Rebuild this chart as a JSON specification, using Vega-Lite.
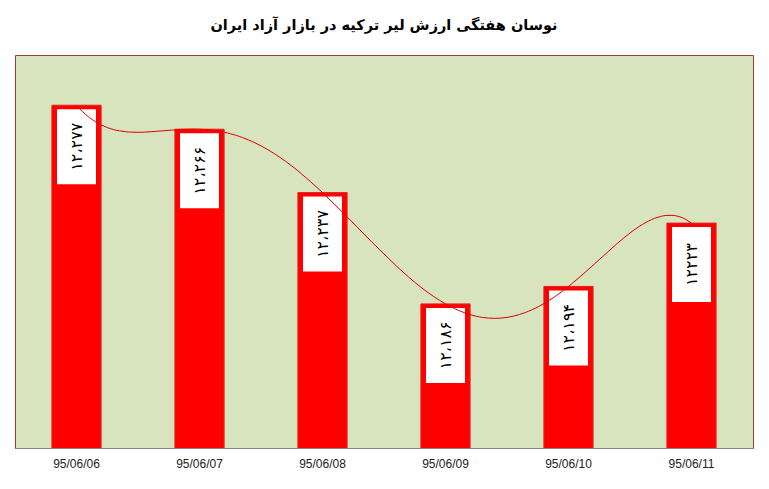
{
  "$schema": "https://vega.github.io/schema/vega-lite/v6.json",
  "autosize": "none",
  "width": 738,
  "height": 393,
  "padding": {"left": 15, "top": 55, "right": 16, "bottom": 41},
  "background": "white",
  "title": {
    "text": "نوسان هفتگی ارزش لیر ترکیه در بازار آزاد ایران",
    "font": "DejaVu Sans",
    "fontSize": 14.5,
    "fontWeight": "bold",
    "color": "black",
    "anchor": "middle",
    "offset": 22
  },
  "config": {
    "view": {"fill": "#D7E4BD", "stroke": "#A33A36", "strokeWidth": 1}
  },
  "data": {
    "values": [
      {"idx": 0, "date": "95/06/06", "rate": 12277, "label": "۱۲،۲۷۷"},
      {"idx": 1, "date": "95/06/07", "rate": 12266, "label": "۱۲،۲۶۶"},
      {"idx": 2, "date": "95/06/08", "rate": 12237, "label": "۱۲،۲۳۷"},
      {"idx": 3, "date": "95/06/09", "rate": 12186, "label": "۱۲،۱۸۶"},
      {"idx": 4, "date": "95/06/10", "rate": 12194, "label": "۱۲،۱۹۴"},
      {"idx": 5, "date": "95/06/11", "rate": 12223, "label": "۱۲۲۲۳"}
    ]
  },
  "resolve": {"scale": {"x": "independent"}},
  "layer": [
    {
      "encoding": {
        "x": {
          "field": "date",
          "type": "ordinal",
          "sort": null,
          "scale": {"paddingInner": 0.6, "paddingOuter": 0.3},
          "axis": {
            "title": null,
            "labelAngle": 0,
            "ticks": false,
            "labelPadding": 10,
            "labelFont": "Liberation Sans",
            "labelFontSize": 12,
            "labelColor": "#222222",
            "domainColor": "#888888",
            "domainWidth": 1
          }
        },
        "y": {
          "field": "rate",
          "type": "quantitative",
          "scale": {"domain": [12120, 12300], "nice": false, "zero": false},
          "axis": null
        }
      },
      "layer": [
        {
          "mark": {"type": "bar", "clip": true, "color": "#FF0000", "stroke": "#E82020", "strokeWidth": 1}
        },
        {
          "mark": {"type": "tick", "orient": "vertical", "color": "white", "opacity": 1, "size": 75, "thickness": 39, "yOffset": 41.5}
        },
        {
          "mark": {"type": "text", "angle": 270, "align": "center", "baseline": "middle", "yOffset": 41.5, "font": "DejaVu Sans", "fontSize": 16, "color": "black"},
          "encoding": {"text": {"field": "label"}}
        }
      ]
    },
    {
      "transform": [
        {"regression": "rate", "on": "idx", "method": "poly", "order": 5}
      ],
      "mark": {"type": "line", "color": "#E00000", "strokeWidth": 1},
      "encoding": {
        "x": {
          "field": "idx",
          "type": "quantitative",
          "scale": {"domain": [-0.5, 5.5], "nice": false, "zero": false},
          "axis": null
        },
        "y": {
          "field": "rate",
          "type": "quantitative",
          "scale": {"domain": [12120, 12300], "nice": false, "zero": false},
          "axis": null
        }
      }
    }
  ]
}
